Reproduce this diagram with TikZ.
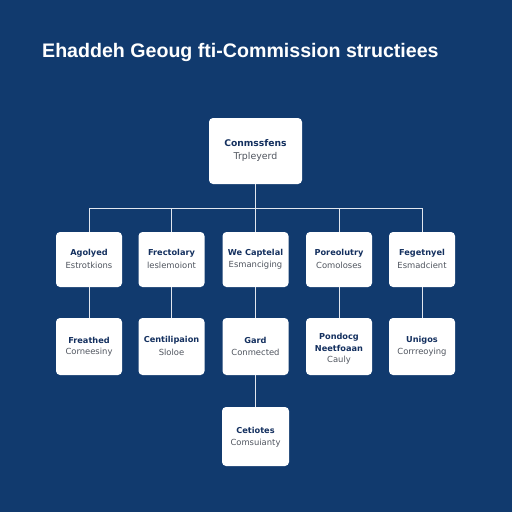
\documentclass[tikz,border=0pt]{standalone}
\usepackage{fontspec}
\setmainfont{Liberation Sans}
\newfontfamily\boxfont{DejaVu Sans}
\definecolor{bgnavy}{RGB}{17,58,110}
\definecolor{txtnavy}{RGB}{20,48,95}
\definecolor{txtgray}{RGB}{80,85,95}
\definecolor{linec}{RGB}{225,230,238}
\begin{document}
\begin{tikzpicture}[x=1pt,y=-1pt,
  card/.style={draw=none,fill=white,rounded corners=4pt,inner sep=0pt},
  conn/.style={draw=linec,line width=1pt},
  hd/.style={font=\boxfont\fontsize{8.2}{9}\selectfont\bfseries,text=txtnavy},
  sb/.style={font=\boxfont\fontsize{8.4}{9}\selectfont,text=txtgray}]
\fill[bgnavy] (0,0) rectangle (512,512);
\useasboundingbox (0,0) rectangle (512,512);
\node[anchor=west,inner sep=0pt,text=white,font=\fontsize{19.6}{21}\selectfont\bfseries] (title) at (42,52) {Ehaddeh Geoug fti-Commission structiees};
% root
\node[card,minimum width=93pt,minimum height=66pt] (root) at (255.5,151) {};
\node[font=\boxfont\fontsize{9.2}{10}\selectfont\bfseries,text=txtnavy] (rootA) at (255.5,143) {Conmssfens};
\node[font=\boxfont\fontsize{9.4}{10}\selectfont,text=txtgray] (rootB) at (255.5,157) {Trpleyerd};
% bus
\coordinate (bus0) at (255.5,208);
\coordinate (busL) at (89,208);
\coordinate (busR) at (422,208);
% rows 2 and 3
\foreach \n/\x in {a/89,b/171.5,c/255.5,d/339,e/422}{
  \node[card,minimum width=66pt,minimum height=55pt] (r2\n) at (\x,259.5) {};
  \node[card,minimum width=66pt,minimum height=57pt] (r3\n) at (\x,346.5) {};
}
\node[card,minimum width=67pt,minimum height=59pt] (r4) at (255.5,436.5) {};
% connectors
\draw[conn] (root.south) -- (bus0);
\draw[conn] (busL) -- (busR);
\foreach \n in {a,b,c,d,e}{
  \draw[conn] (r2\n.north |- bus0) -- (r2\n.north);
  \draw[conn] (r2\n.south) -- (r3\n.north);
}
\draw[conn] (r3c.south) -- (r4.north);
% texts row 2
\node[hd] (t2a1) at (89,253) {Agolyed};
\node[sb] (t2a2) at (89,265) {Estrotkions};
\node[hd] (t2b1) at (171.5,253) {Frectolary};
\node[sb] (t2b2) at (171.5,265) {leslemoiont};
\node[hd] (t2c1) at (255.5,253) {We Captelal};
\node[sb] (t2c2) at (255.5,265) {Esmanciging};
\node[hd] (t2d1) at (339,253) {Poreolutry};
\node[sb] (t2d2) at (339,265) {Comoloses};
\node[hd] (t2e1) at (422,253) {Fegetnyel};
\node[sb] (t2e2) at (422,265) {Esmadcient};
% texts row 3
\node[hd] (t3a1) at (89,340) {Freathed};
\node[sb] (t3a2) at (89,352) {Corneesiny};
\node[hd] (t3b1) at (171.5,340) {Centilipaion};
\node[sb] (t3b2) at (171.5,352) {Sloloe};
\node[hd] (t3c1) at (255.5,340) {Gard};
\node[sb] (t3c2) at (255.5,352) {Conmected};
\node[hd] (t3d1) at (339,337) {Pondocg};
\node[hd] (t3d2) at (339,348) {Neetfoaan};
\node[sb] (t3d3) at (339,360) {Cauly};
\node[hd] (t3e1) at (422,340) {Unigos};
\node[sb] (t3e2) at (422,352) {Corrreoying};
% row 4
\node[hd] (t41) at (255.5,430) {Cetiotes};
\node[sb] (t42) at (255.5,443) {Comsuianty};
\end{tikzpicture}
\end{document}
